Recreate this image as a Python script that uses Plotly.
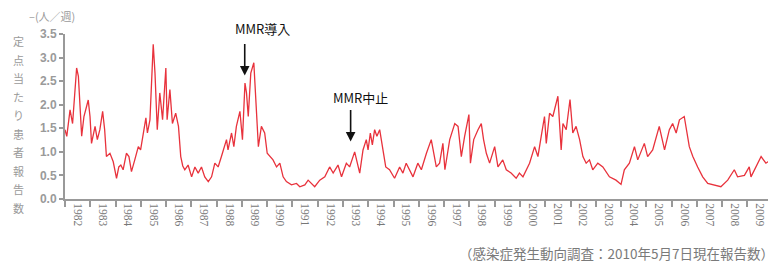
import plotly.graph_objects as go
import pandas as pd

# decimal-year positions and values (patients per sentinel site per week)
years = [
    1982.00, 1982.07, 1982.20, 1982.30, 1982.46, 1982.53, 1982.66, 1982.75, 1982.92, 1982.99,
    1983.05, 1983.19, 1983.28, 1983.38, 1983.49, 1983.57, 1983.64, 1983.78, 1983.91,
    1984.04, 1984.13, 1984.21, 1984.30, 1984.43, 1984.53, 1984.63, 1984.76, 1984.90, 1984.99,
    1985.09, 1985.20, 1985.26, 1985.36, 1985.49, 1985.56, 1985.65, 1985.75, 1985.86, 1985.99,
    1986.04, 1986.15, 1986.25, 1986.38, 1986.49, 1986.58, 1986.66, 1986.74, 1986.87,
    1987.01, 1987.14, 1987.27, 1987.40, 1987.53, 1987.67, 1987.80, 1987.93,
    1988.06, 1988.19, 1988.39, 1988.45, 1988.59, 1988.68, 1988.78, 1988.92,
    1989.02, 1989.12, 1989.18, 1989.25, 1989.35, 1989.47, 1989.55, 1989.65, 1989.77, 1989.90,
    1990.00, 1990.10, 1990.23, 1990.37, 1990.50, 1990.63, 1990.76, 1990.96,
    1991.16, 1991.29, 1991.49, 1991.62, 1991.88,
    1992.08, 1992.28, 1992.47, 1992.61, 1992.80, 1992.94,
    1993.13, 1993.26, 1993.46, 1993.66, 1993.79, 1993.92, 1993.99,
    1994.08, 1994.16, 1994.25, 1994.34, 1994.45, 1994.58, 1994.69, 1994.84,
    1995.04, 1995.24, 1995.37, 1995.50, 1995.63, 1995.77, 1995.96,
    1996.10, 1996.30, 1996.49, 1996.69, 1996.82, 1996.95,
    1997.03, 1997.22, 1997.42, 1997.55, 1997.68, 1997.81, 1997.98,
    1998.04, 1998.17, 1998.34, 1998.47, 1998.56, 1998.67, 1998.80,
    1999.00, 1999.13, 1999.32, 1999.46, 1999.65, 1999.85, 1999.98,
    2000.12, 2000.38, 2000.58, 2000.71, 2000.84, 2000.97,
    2001.04, 2001.17, 2001.30, 2001.50, 2001.63, 2001.70, 2001.83, 2001.98,
    2002.09, 2002.22, 2002.36, 2002.49, 2002.62, 2002.75, 2002.88,
    2003.08, 2003.28, 2003.54, 2003.80,
    2004.00, 2004.13, 2004.33, 2004.53, 2004.66, 2004.92,
    2005.05, 2005.25, 2005.51, 2005.72, 2005.91,
    2006.04, 2006.18, 2006.31, 2006.50, 2006.70, 2006.84,
    2007.03, 2007.23, 2007.43, 2007.69, 2007.95,
    2008.22, 2008.48, 2008.61, 2008.88,
    2009.07, 2009.14, 2009.54, 2009.73, 2009.93, 2010.08,
]
values = [
    1.47, 1.33, 1.89, 1.60, 2.78, 2.60, 1.33, 1.75, 2.10, 1.75,
    1.18, 1.54, 1.26, 1.47, 1.86, 1.47, 0.90, 0.97, 0.79,
    0.44, 0.68, 0.72, 0.62, 0.97, 0.90, 0.58, 0.83, 1.11, 1.04,
    1.33, 1.72, 1.40, 1.68, 3.28, 2.67, 1.47, 2.25, 1.68, 2.78,
    1.68, 2.32, 1.60, 1.82, 1.54, 0.90, 0.70, 0.62, 0.72,
    0.47, 0.68, 0.55, 0.68, 0.47, 0.37, 0.47, 0.76,
    0.68, 0.90, 1.26, 1.04, 1.40, 1.11, 1.54, 1.86,
    1.26, 2.46, 2.25, 1.75, 2.67, 2.89, 2.18, 1.11, 1.54, 1.40,
    0.97, 0.90, 0.83, 0.68, 0.76, 0.47, 0.37, 0.30,
    0.33, 0.26, 0.30, 0.40, 0.26,
    0.40, 0.47, 0.68, 0.55, 0.72, 0.47,
    0.76, 0.68, 1.00, 0.55, 1.04, 1.26, 1.04,
    1.40, 1.15, 1.47, 1.33, 1.47, 1.04, 0.68, 0.62,
    0.44, 0.68, 0.55, 0.76, 0.62, 0.47, 0.76,
    0.62, 0.97, 1.26, 0.68, 0.76, 1.18,
    0.62, 1.26, 1.60, 1.54, 0.90, 1.33, 1.79,
    0.76, 1.26, 1.47, 1.60, 1.26, 0.97, 0.76,
    1.11, 0.68, 0.83, 0.62, 0.55, 0.44, 0.55,
    0.47, 0.76, 1.11, 0.90, 1.33, 1.75,
    1.18, 1.82, 1.75, 2.18, 1.04, 1.60, 1.47, 2.11,
    1.40, 1.54, 1.26, 0.90, 0.76, 0.83, 0.62,
    0.76, 0.68, 0.47, 0.40,
    0.31, 0.62, 0.76, 1.11, 0.83, 1.18,
    0.90, 1.04, 1.54, 1.04, 1.47,
    1.60, 1.40, 1.68, 1.75, 1.11, 0.90,
    0.68, 0.47, 0.33, 0.30, 0.26,
    0.40, 0.62, 0.47, 0.50,
    0.68, 0.47, 0.90, 0.76, 0.83, 0.62,
]

year_labels = list(range(1982, 2010))
y_ticks = [0.0, 0.5, 1.0, 1.5, 2.0, 2.5, 3.0, 3.5]
y_label_chars = list("定点当たり患者報告数")
unit_text = "–(人／週)"
source_text = "（感染症発生動向調査：2010年5月7日現在報告数）"

# annotated events: (decimal year, value at arrow tip, label)
events = [
    (1989.11, 2.62, "MMR導入"),
    (1993.30, 1.22, "MMR中止"),
]


def to_date(dy):
    y = int(dy)
    start = pd.Timestamp(f"{y}-01-01")
    end = pd.Timestamp(f"{y + 1}-01-01")
    return start + (end - start) * (dy - y)


dates = [to_date(v) for v in years]

# the page body adds an 8px offset, so the figure starts at page (8, 8)
OFF = 8
W, H = 776 - OFF, 263 - OFF
L, R, T, B = 65 - OFF, W - (775 - OFF), 34 - OFF, H - (199 - OFF)
pw, ph = W - L - R, H - T - B


def px_x(rx):  # reference page x -> paper x
    return (rx - OFF - L) / pw


def px_y(ry):  # reference page y -> paper y
    return (T + ph - (ry - OFF)) / ph


fig = go.Figure()
fig.add_trace(go.Scatter(
    x=dates, y=values, mode="lines",
    line=dict(color="#e8323c", width=1.3),
    hoverinfo="skip", showlegend=False,
))

fig.update_layout(
    width=W, height=H,
    margin=dict(l=L, r=R, t=T, b=B, autoexpand=False),
    paper_bgcolor="white", plot_bgcolor="white",
    font=dict(family="Noto Sans CJK JP, Liberation Sans, sans-serif", color="#8c8c8c"),
    xaxis=dict(
        type="date", automargin=False,
        range=[to_date(1982.0), to_date(2010.09)],
        tickvals=[to_date(y + 0.5) for y in year_labels],
        ticktext=[str(y) for y in year_labels],
        tickangle=90, ticks="",
        minor=dict(dtick="M12", tick0="1982-01-01", ticks="outside", ticklen=6,
                   tickcolor="#999999", tickwidth=1.5, showgrid=False),
        showline=True, linecolor="#999999", linewidth=2,
        showgrid=False, zeroline=False,
        tickfont=dict(size=11.5, color="#777777", family="Liberation Serif, serif"),
    ),
    yaxis=dict(
        automargin=False,
        range=[0, 3.5],
        tickvals=y_ticks,
        ticktext=[f"{v:.1f}" for v in y_ticks],
        ticks="outside", ticklen=4, tickcolor="#999999", tickwidth=1.5,
        showline=True, linecolor="#999999", linewidth=2,
        showgrid=False, zeroline=False,
        tickfont=dict(size=12, color="#9a9a9a", family="Liberation Sans, sans-serif", weight="bold"),
    ),
)

# vertical y-axis title, one character per line
top_px, bot_px = 41, 208
n = len(y_label_chars)
for i, ch in enumerate(y_label_chars):
    ry = top_px + (bot_px - top_px) * i / (n - 1)
    fig.add_annotation(
        xref="paper", yref="paper",
        x=px_x(18), y=px_y(ry),
        text=ch, showarrow=False,
        font=dict(size=11, color="#9a9a9a"),
        xanchor="center", yanchor="middle",
    )

fig.add_annotation(
    xref="paper", yref="paper",
    x=px_x(52), y=px_y(16),
    text=unit_text, showarrow=False,
    font=dict(size=11, color="#9a9a9a"),
    xanchor="center", yanchor="middle",
)

fig.add_annotation(
    xref="paper", yref="paper",
    x=px_x(776), y=px_y(253),
    text=source_text, showarrow=False,
    font=dict(size=13.5, color="#7a7a7a"),
    xanchor="right", yanchor="middle",
)

text_offsets = [(18, -47), (10, -44)]
for (dy, v, label), (dx, ty) in zip(events, text_offsets):
    d = to_date(dy)
    fig.add_annotation(
        x=d, y=v, xref="x", yref="y",
        text="", showarrow=True,
        ax=0, ay=-33, arrowhead=2, arrowsize=1.2, arrowwidth=1.6,
        arrowcolor="#111111",
    )
    fig.add_annotation(
        x=d, y=v, xref="x", yref="y",
        text=label, showarrow=False,
        xshift=dx, yshift=-ty,
        font=dict(size=13, color="#111111", family="Noto Sans CJK JP, sans-serif"),
        xanchor="center", yanchor="middle",
    )

fig.write_html("out.html")
